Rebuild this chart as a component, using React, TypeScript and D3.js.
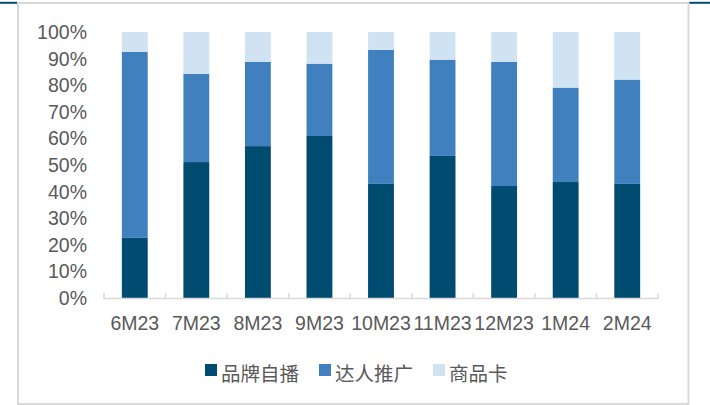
import React from "react";
import * as d3 from "d3";

const categories = ["6M23", "7M23", "8M23", "9M23", "10M23", "11M23", "12M23", "1M24", "2M24"];
const brandLive = [22.6, 51.1, 57.1, 60.9, 42.9, 53.4, 42.1, 43.6, 42.9];
const influencer = [70.0, 33.2, 31.7, 27.2, 50.4, 36.2, 46.7, 35.5, 39.2];
const productCard = [7.4, 15.7, 11.2, 11.9, 6.7, 10.4, 11.2, 20.9, 17.9];
const seriesNames = ["品牌自播", "达人推广", "商品卡"];
const colors = ["#004B70", "#4180BF", "#D0E3F3"];
const yTicks = [0, 10, 20, 30, 40, 50, 60, 70, 80, 90, 100];

const W = 710;
const H = 405;
const left = 104;
const right = 658;
const top = 32;
const bottom = 298;
const font = "'Liberation Sans', Arial, sans-serif";
const textColor = "#595959";

export default function App() {
  const rows = categories.map((c, i) => ({
    cat: c,
    s0: brandLive[i],
    s1: influencer[i],
    s2: productCard[i],
  }));
  const stack = d3.stack<any>().keys(["s0", "s1", "s2"]);
  const layers = stack(rows);

  const x = d3.scaleBand<string>().domain(categories).range([left, right]).paddingInner(0).paddingOuter(0);
  const y = d3.scaleLinear().domain([0, 100]).range([bottom, top]);
  const bw = x.bandwidth() * 0.42;

  const legendItems = [
    { sx: 205, tx: 221 },
    { sx: 319, tx: 335 },
    { sx: 433, tx: 449 },
  ];

  return (
    <svg width={W} height={H} style={{ position: "absolute", left: 0, top: 0, display: "block" }}>
      <rect x={0} y={0} width={W} height={H} fill="#fff" />
      {/* frame */}
      <line x1={0} x2={17} y1={2.8} y2={2.8} stroke="#004B70" strokeWidth={2} />
      <line x1={689} x2={W} y1={2.8} y2={2.8} stroke="#004B70" strokeWidth={2} />
      <rect x={18} y={3} width={670.5} height={401} fill="none" stroke="#D9D9D9" strokeWidth={2} />

      {layers.map((layer, li) => (
        <g key={li}>
          {layer.map((d, i) => (
            <rect
              key={i}
              x={(x(categories[i]) as number) + (x.bandwidth() - bw) / 2}
              y={y(d[1])}
              width={bw}
              height={y(d[0]) - y(d[1])}
              fill={colors[li]}
            />
          ))}
        </g>
      ))}

      {/* x axis */}
      <line x1={left} x2={right} y1={298.5} y2={298.5} stroke="#D9D9D9" strokeWidth={1.5} />
      {d3.range(categories.length + 1).map((i) => {
        const xx = left + i * x.step();
        return <line key={i} x1={xx} x2={xx} y1={293} y2={299} stroke="#D9D9D9" strokeWidth={1.5} />;
      })}
      {categories.map((c) => (
        <text
          key={c}
          x={(x(c) as number) + x.bandwidth() / 2}
          y={330}
          textAnchor="middle"
          fontFamily={font}
          fontSize={19.5}
          fill={textColor}
        >
          {c}
        </text>
      ))}

      {/* y labels */}
      {yTicks.map((t) => (
        <text
          key={t}
          x={87}
          y={y(t)}
          textAnchor="end"
          dominantBaseline="central"
          fontFamily={font}
          fontSize={19.5}
          fill={textColor}
        >
          {t}%
        </text>
      ))}

      {/* legend */}
      {seriesNames.map((n, i) => (
        <g key={n}>
          <rect x={legendItems[i].sx} y={364} width={12} height={12} fill={colors[i]} />
          <text
            x={legendItems[i].tx}
            y={372}
            dominantBaseline="central"
            fontFamily="'Noto Sans CJK SC', sans-serif"
            fontSize={19.5}
            fill={textColor}
          >
            {n}
          </text>
        </g>
      ))}
    </svg>
  );
}
